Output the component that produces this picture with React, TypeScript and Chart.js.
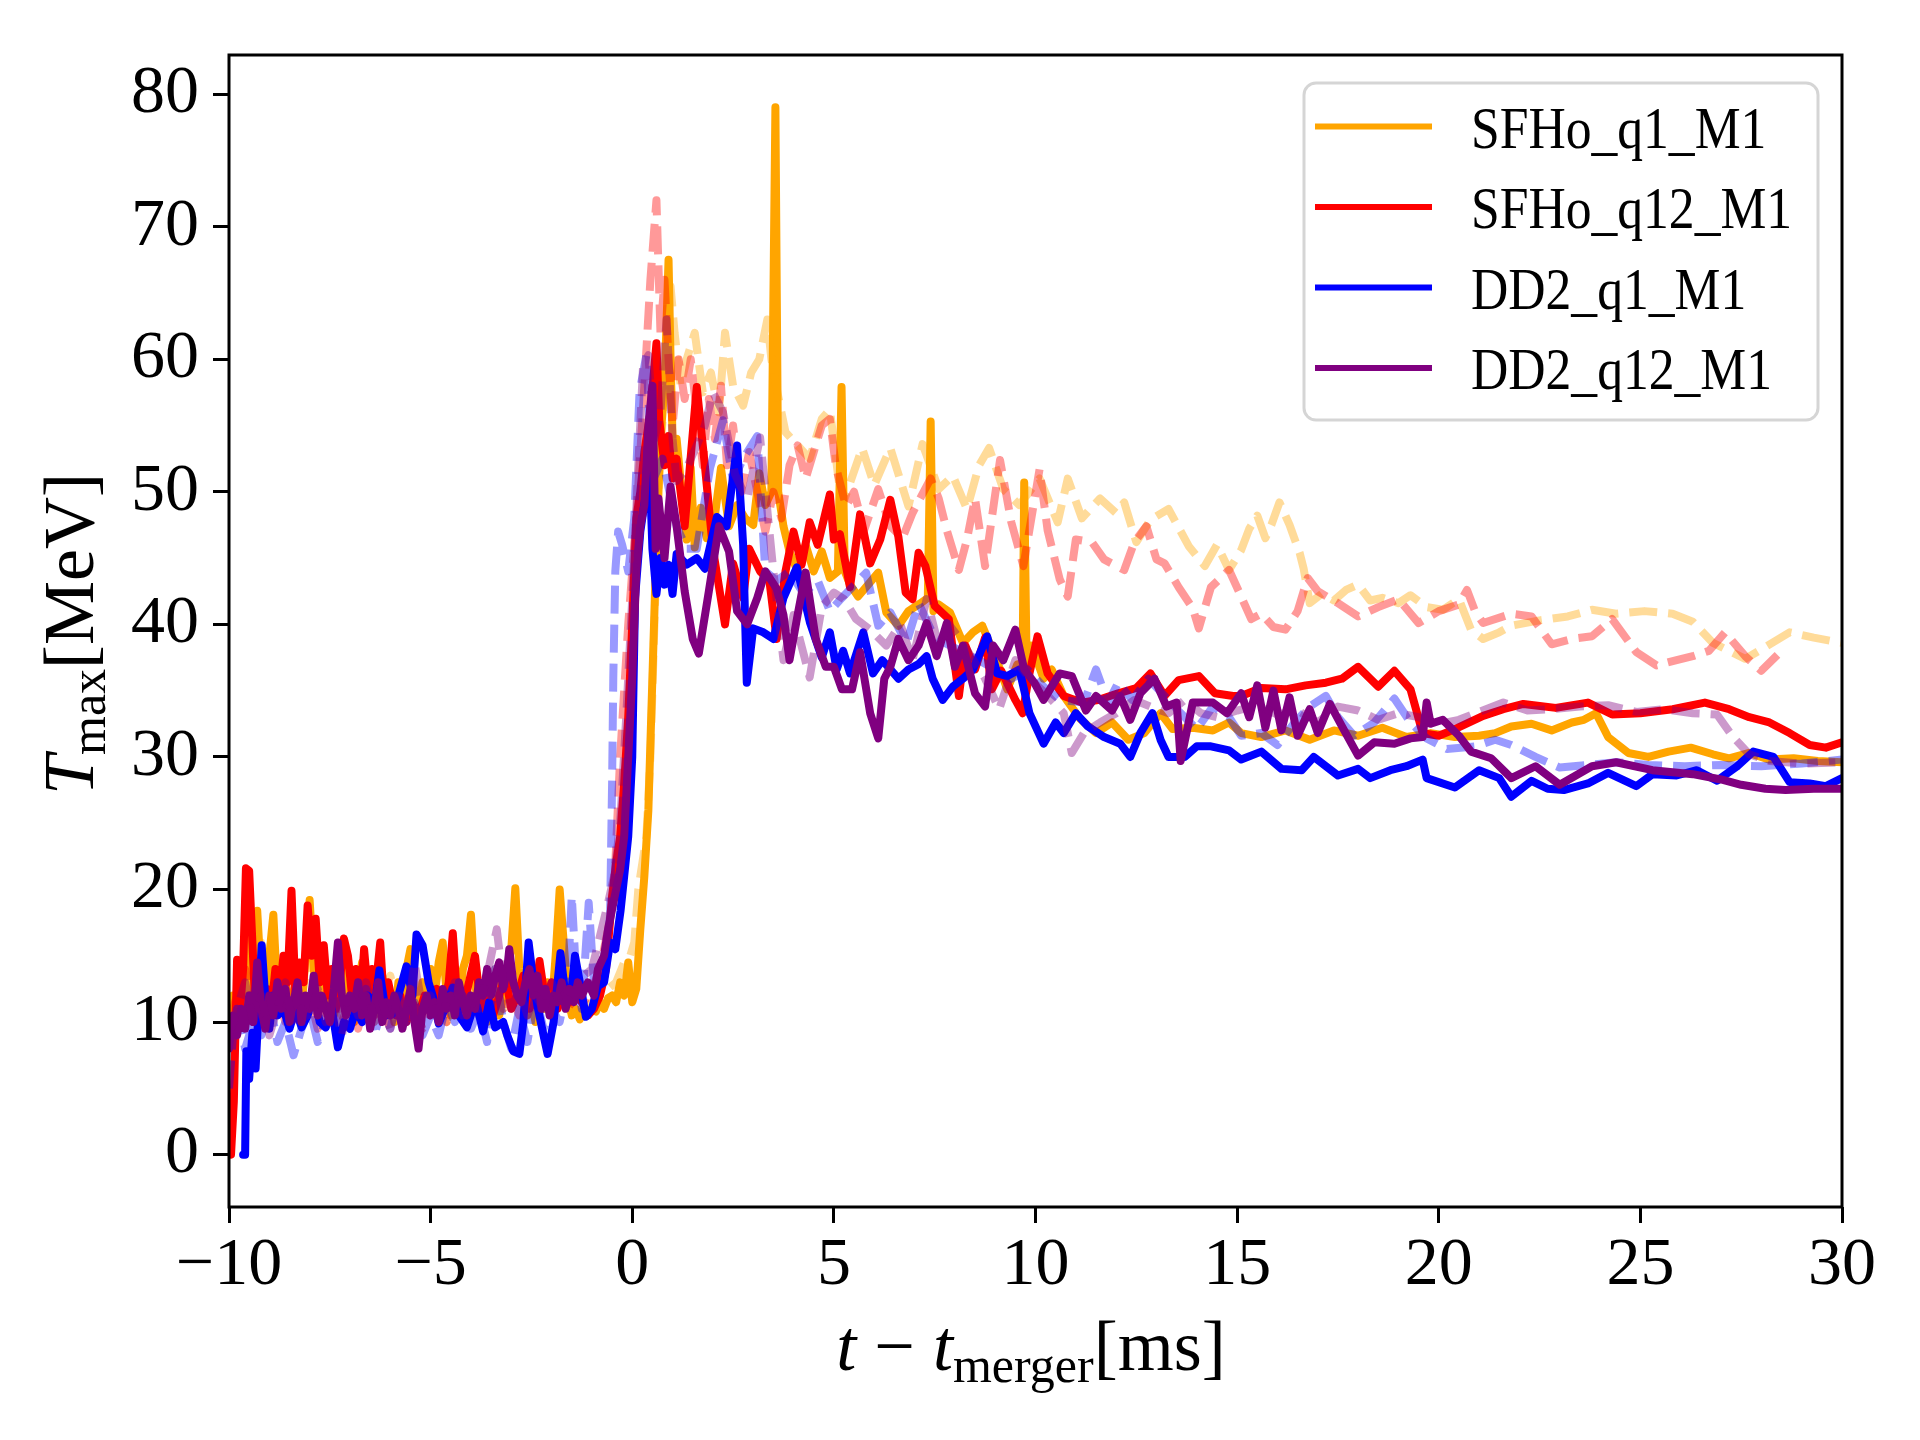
import { useEffect, useRef } from 'react';
import { Chart, registerables } from 'chart.js';

Chart.register(...registerables);

const FONT = "'Liberation Serif', 'DejaVu Serif', serif";

const xTicks = [-10, -5, 0, 5, 10, 15, 20, 25, 30];
const yTicks = [0, 10, 20, 30, 40, 50, 60, 70, 80];

const seriesNames = ['SFHo_q1_M1', 'SFHo_q12_M1', 'DD2_q1_M1', 'DD2_q12_M1'];
const seriesColors = ['#FFA500', '#FF0000', '#0000FF', '#800080'];
const dashedColors = ['rgba(255,165,0,0.4)', 'rgba(255,0,0,0.4)', 'rgba(0,0,255,0.4)', 'rgba(128,0,128,0.4)'];

// [t - t_merger (ms), T_max (MeV)]
const sfhoQ1 = [
  [-10, 10.5], [-9.9, 12], [-9.8, 10], [-9.7, 13], [-9.6, 11], [-9.5, 17.9], [-9.4, 12], [-9.3, 18.4], [-9.2, 13], [-9.1, 11],
  [-9.0, 15], [-8.9, 18.1], [-8.8, 12], [-8.7, 11], [-8.6, 13], [-8.5, 10.5], [-8.4, 12], [-8.3, 14], [-8.2, 11], [-8.1, 15],
  [-8.0, 19.2], [-7.9, 14], [-7.8, 12], [-7.7, 15], [-7.6, 11], [-7.5, 13], [-7.4, 10.5], [-7.3, 12], [-7.2, 14], [-7.1, 11],
  [-7.0, 13], [-6.9, 10], [-6.8, 12.5], [-6.7, 14.5], [-6.6, 11], [-6.5, 13], [-6.4, 10.5], [-6.3, 12], [-6.2, 13.5], [-6.1, 11],
  [-6.0, 12], [-5.9, 10], [-5.8, 13], [-5.7, 11], [-5.6, 14], [-5.5, 15.5], [-5.4, 12], [-5.3, 10.5], [-5.2, 13], [-5.1, 11.5],
  [-5.0, 14], [-4.9, 12], [-4.8, 14.5], [-4.7, 16], [-4.6, 12], [-4.5, 10.5], [-4.4, 13], [-4.3, 11], [-4.2, 14], [-4.1, 15],
  [-4.0, 18.1], [-3.9, 13], [-3.8, 11], [-3.7, 12.5], [-3.6, 10], [-3.5, 11.5], [-3.4, 13], [-3.3, 10.5], [-3.2, 12], [-3.1, 14],
  [-3.0, 15.5], [-2.9, 20.1], [-2.8, 14], [-2.7, 12], [-2.6, 10.5], [-2.5, 11.5], [-2.4, 10], [-2.3, 12], [-2.2, 11], [-2.1, 13],
  [-2.0, 11], [-1.9, 15], [-1.8, 20], [-1.7, 16], [-1.6, 12], [-1.5, 10.5], [-1.4, 11], [-1.3, 10.2], [-1.2, 11], [-1.1, 10.5],
  [-1.0, 11], [-0.9, 10.8], [-0.8, 11.5], [-0.7, 11], [-0.6, 11.8], [-0.5, 12], [-0.4, 11.5], [-0.3, 13], [-0.2, 12], [-0.1, 14.5],
  [0.0, 11.5], [0.1, 12.5], [0.2, 17], [0.3, 21], [0.4, 26], [0.5, 36], [0.6, 46], [0.7, 54], [0.8, 58], [0.9, 67.5],
  [0.95, 60], [1.0, 54], [1.1, 54], [1.2, 50.8], [1.3, 48], [1.35, 46.4], [1.45, 51.8], [1.55, 45.8], [1.7, 48.8], [1.85, 46.5],
  [2.0, 47], [2.2, 51.8], [2.4, 47.4], [2.6, 49], [2.8, 48], [3.0, 47.5], [3.15, 51.4], [3.3, 49], [3.45, 50], [3.55, 79],
  [3.62, 50], [3.75, 47.4], [3.9, 45.5], [4.1, 44], [4.3, 46], [4.5, 44], [4.7, 45.5], [4.9, 43.5], [5.1, 44], [5.19, 57.9],
  [5.27, 44], [5.4, 43], [5.6, 42.1], [5.85, 43], [6.1, 43.9], [6.3, 40.9], [6.6, 39.9], [6.85, 41], [7.15, 41.6], [7.33, 42],
  [7.4, 55.3], [7.47, 41], [7.6, 41.5], [7.88, 40.9], [8.2, 38.6], [8.45, 39.4], [8.68, 39.9], [9.0, 37.6], [9.3, 35.1], [9.55, 37],
  [9.68, 37], [9.72, 50.7], [9.78, 37], [9.9, 38.4], [10.2, 35.9], [10.4, 36.6], [10.7, 34.6], [11.1, 32.9], [11.5, 31.8], [11.9, 32.6],
  [12.3, 31.3], [12.7, 31.8], [13.1, 33.3], [13.4, 32.1], [13.9, 32.2], [14.4, 32], [14.8, 32.6], [15.1, 31.8], [15.6, 31.5], [16.2, 32],
  [16.8, 31.3], [17.4, 32], [18.0, 31.6], [18.6, 32.2], [19.2, 31.5], [19.8, 31.8], [20.4, 31.5], [21.0, 31.6], [21.4, 31.8], [21.8, 32.3],
  [22.3, 32.5], [22.8, 32], [23.3, 32.6], [23.6, 32.8], [23.9, 33.3], [24.2, 31.5], [24.7, 30.3], [25.2, 30], [25.7, 30.4], [26.25, 30.7],
  [26.8, 30.2], [27.2, 29.9], [27.7, 30.3], [28.2, 29.8], [28.8, 29.9], [29.4, 29.7], [30, 29.6],
];

const sfhoQ12 = [
  [-9.95, 0], [-9.88, 4], [-9.8, 14.7], [-9.72, 11], [-9.65, 14], [-9.58, 21.6], [-9.5, 21.4], [-9.42, 16], [-9.35, 11.3], [-9.25, 13],
  [-9.15, 10], [-9.05, 12.5], [-8.95, 11], [-8.85, 14], [-8.75, 12], [-8.65, 15], [-8.55, 13], [-8.45, 19.9], [-8.35, 12], [-8.25, 14.5],
  [-8.15, 13], [-8.05, 18.8], [-7.95, 15], [-7.85, 17.8], [-7.75, 13], [-7.65, 15.8], [-7.55, 12], [-7.45, 14], [-7.35, 11], [-7.25, 13],
  [-7.15, 16.3], [-7.05, 15], [-6.95, 12], [-6.85, 14], [-6.75, 11], [-6.65, 15.5], [-6.55, 12], [-6.45, 14], [-6.35, 13], [-6.25, 16],
  [-6.15, 11], [-6.05, 13], [-5.95, 11.5], [-5.85, 10.5], [-5.75, 12], [-5.6, 10], [-5.45, 11.5], [-5.3, 10.5], [-5.15, 12], [-5.0, 11],
  [-4.85, 12.5], [-4.7, 11], [-4.55, 13], [-4.45, 16.7], [-4.35, 12], [-4.2, 11], [-4.05, 13], [-3.9, 15], [-3.75, 11], [-3.6, 12.5],
  [-3.45, 10.5], [-3.3, 12], [-3.15, 13.5], [-3.0, 11], [-2.85, 12], [-2.7, 13.5], [-2.55, 11], [-2.4, 12], [-2.3, 14.6], [-2.15, 11.5],
  [-2.0, 13], [-1.85, 11], [-1.7, 12.5], [-1.55, 11.5], [-1.4, 12], [-1.25, 11.5], [-1.1, 10.5], [-0.95, 11], [-0.8, 12], [-0.65, 14],
  [-0.5, 19.5], [-0.4, 22], [-0.3, 24], [-0.2, 28], [-0.1, 33], [0.0, 40], [0.1, 48], [0.2, 50], [0.3, 53], [0.45, 56],
  [0.6, 61.2], [0.67, 55.4], [0.8, 52], [0.9, 54.2], [1.0, 51], [1.1, 52.5], [1.3, 47.4], [1.6, 57.9], [1.8, 52], [2.0, 45.7],
  [2.3, 40], [2.5, 44.6], [2.75, 42], [2.9, 45.7], [3.17, 44], [3.4, 43.3], [3.58, 38.9], [3.8, 44], [4.0, 47], [4.2, 44.5],
  [4.4, 47.7], [4.6, 46], [4.9, 49.8], [5.0, 46.4], [5.15, 46.8], [5.4, 42.8], [5.65, 48.3], [5.9, 44.6], [6.15, 46.4], [6.4, 49.4],
  [6.6, 46.6], [6.78, 42.4], [6.95, 41.9], [7.1, 45.4], [7.27, 44.4], [7.5, 41.4], [7.85, 40.4], [8.1, 34.6], [8.26, 38.4], [8.5, 36.6],
  [8.75, 39], [8.92, 35.1], [9.15, 36.5], [9.5, 34.3], [9.68, 33.3], [9.85, 36.3], [10.05, 39.1], [10.3, 36.3], [10.7, 34.6], [11.15, 34.1],
  [11.55, 34.3], [12.05, 34.8], [12.5, 35.2], [12.85, 36.3], [13.2, 34.6], [13.55, 35.8], [14.05, 36.1], [14.45, 34.8], [14.9, 34.6], [15.1, 34.6],
  [15.6, 35.2], [16.2, 35.1], [16.7, 35.4], [17.2, 35.6], [17.6, 35.9], [18.0, 36.8], [18.5, 35.3], [18.9, 36.5], [19.3, 35.1], [19.6, 31.8],
  [20.0, 31.6], [20.4, 32.1], [21.1, 33.1], [21.6, 33.6], [22.1, 34], [22.9, 33.7], [23.7, 34.1], [24.3, 33.2], [25.0, 33.3], [25.8, 33.6],
  [26.6, 34.1], [27.2, 33.6], [27.7, 33], [28.2, 32.6], [28.7, 31.8], [29.2, 30.9], [29.6, 30.7], [30, 31.1],
];

const dd2Q1 = [
  [-9.65, 0], [-9.6, 0], [-9.57, 7.8], [-9.5, 5.7], [-9.42, 9.2], [-9.34, 6.5], [-9.25, 12], [-9.19, 15.8], [-9.1, 11.8], [-9.0, 9.5],
  [-8.9, 12], [-8.8, 10.5], [-8.65, 11], [-8.5, 9.5], [-8.35, 11], [-8.2, 9.6], [-8.05, 10.5], [-7.9, 12.3], [-7.75, 10], [-7.6, 9.6],
  [-7.45, 11], [-7.3, 8.1], [-7.15, 10], [-7.0, 9.5], [-6.85, 11], [-6.7, 10], [-6.55, 12], [-6.4, 11], [-6.27, 13.9], [-6.1, 10.5],
  [-5.95, 10.6], [-5.8, 12], [-5.6, 14.2], [-5.45, 12], [-5.35, 16.6], [-5.2, 15.8], [-5.05, 13], [-4.95, 12], [-4.8, 9.9], [-4.65, 11],
  [-4.45, 12.6], [-4.3, 10.5], [-4.1, 9.6], [-3.95, 11], [-3.85, 11.2], [-3.7, 9.3], [-3.55, 11.5], [-3.4, 9.6], [-3.2, 10], [-3.1, 9],
  [-2.95, 7.8], [-2.8, 7.6], [-2.7, 10], [-2.57, 16], [-2.45, 13], [-2.35, 11.2], [-2.2, 9], [-2.1, 7.6], [-1.95, 10], [-1.78, 15.2],
  [-1.65, 11.8], [-1.5, 12.5], [-1.42, 15], [-1.3, 13], [-1.15, 10.4], [-1.0, 11], [-0.85, 12.7], [-0.7, 13], [-0.55, 16], [-0.42, 15.5],
  [-0.29, 18.4], [-0.2, 21], [-0.1, 24], [0.0, 30], [0.07, 42], [0.2, 47], [0.43, 51.8], [0.5, 45.7], [0.6, 42.3], [0.7, 45],
  [0.8, 43], [0.9, 44.5], [1.0, 42.3], [1.1, 45.3], [1.35, 44.5], [1.6, 45], [1.8, 44.2], [2.1, 48.1], [2.34, 47.4], [2.6, 53.5],
  [2.75, 46], [2.84, 35.6], [3.0, 39.7], [3.25, 39.4], [3.5, 38.9], [3.75, 42], [4.08, 44.3], [4.41, 40.1], [4.7, 37.5], [4.9, 39.4],
  [5.07, 36.6], [5.23, 38], [5.4, 36.3], [5.73, 39.4], [5.97, 36.3], [6.2, 37.3], [6.6, 35.9], [6.85, 36.6], [7.1, 37], [7.3, 37.6],
  [7.45, 35.9], [7.7, 34.3], [7.95, 35.3], [8.2, 35.9], [8.45, 36.6], [8.8, 39.1], [9.05, 36.3], [9.3, 36.1], [9.6, 36.6], [9.85, 33.3],
  [10.2, 31], [10.5, 32.6], [10.7, 31.8], [11.0, 33.3], [11.3, 32.3], [11.7, 31.5], [12.1, 31], [12.35, 30], [12.6, 31.8], [12.9, 33.3],
  [13.1, 31.3], [13.3, 30], [13.7, 30], [14.0, 30.8], [14.35, 30.8], [14.8, 30.5], [15.1, 29.8], [15.6, 30.4], [16.1, 29.1], [16.6, 29],
  [16.9, 30], [17.5, 28.6], [18.0, 29.1], [18.3, 28.4], [18.8, 29], [19.2, 29.3], [19.6, 29.8], [19.7, 28.4], [20.4, 27.7], [21.0, 29],
  [21.5, 28.4], [21.8, 27], [22.3, 28.2], [22.7, 27.6], [23.1, 27.5], [23.7, 28], [24.2, 28.8], [24.9, 27.8], [25.3, 28.7], [25.9, 28.6],
  [26.4, 29], [26.9, 28.2], [27.4, 29.3], [27.8, 30.4], [28.3, 30], [28.7, 28.1], [29.2, 28], [29.6, 27.8], [30, 28.4],
];

const dd2Q12 = [
  [-10, 8], [-9.9, 10.5], [-9.8, 9], [-9.7, 11], [-9.6, 9.5], [-9.5, 12], [-9.4, 10], [-9.3, 14.5], [-9.2, 11], [-9.1, 9.5],
  [-9.0, 12], [-8.9, 10.5], [-8.8, 13], [-8.7, 11], [-8.6, 12.5], [-8.5, 10], [-8.4, 11.5], [-8.3, 13], [-8.2, 10], [-8.1, 12],
  [-8.0, 11], [-7.9, 13.5], [-7.8, 10.5], [-7.7, 12], [-7.6, 11], [-7.5, 10], [-7.4, 12.5], [-7.3, 16], [-7.2, 12], [-7.1, 10.5],
  [-7.0, 12], [-6.9, 11], [-6.8, 13], [-6.7, 10.5], [-6.6, 12], [-6.5, 9.5], [-6.4, 11], [-6.3, 13], [-6.2, 10], [-6.1, 11.5],
  [-6.0, 10.5], [-5.9, 12], [-5.8, 11], [-5.7, 9.5], [-5.6, 11], [-5.5, 12.5], [-5.4, 10], [-5.3, 8], [-5.2, 11], [-5.1, 12],
  [-5.0, 10.5], [-4.9, 11.5], [-4.8, 10], [-4.7, 12.5], [-4.6, 11], [-4.5, 12], [-4.4, 10.5], [-4.3, 13], [-4.2, 11.5], [-4.1, 10.5],
  [-4.0, 12], [-3.9, 11], [-3.8, 13], [-3.7, 12], [-3.6, 14], [-3.5, 12], [-3.4, 13.5], [-3.3, 14.5], [-3.2, 12.5], [-3.1, 14],
  [-3.05, 15.5], [-2.95, 13], [-2.85, 12], [-2.75, 11.5], [-2.65, 13], [-2.55, 14], [-2.45, 12], [-2.35, 13.5], [-2.25, 11], [-2.15, 12.5],
  [-2.05, 10.5], [-1.95, 12], [-1.85, 11.5], [-1.75, 13], [-1.65, 11], [-1.55, 12.5], [-1.45, 11.5], [-1.35, 13], [-1.25, 12], [-1.1, 13],
  [-0.95, 12], [-0.85, 14], [-0.7, 15], [-0.6, 17], [-0.5, 18.5], [-0.4, 20], [-0.3, 21.5], [-0.2, 24], [-0.1, 30], [0.0, 36],
  [0.1, 44], [0.2, 47.4], [0.3, 49], [0.4, 55], [0.5, 58], [0.58, 45.7], [0.65, 49.5], [0.8, 45], [0.95, 50.4], [1.1, 47.4],
  [1.3, 42.5], [1.5, 38.9], [1.65, 37.8], [1.9, 42.5], [2.15, 47.4], [2.4, 45.5], [2.6, 41], [2.85, 40], [3.1, 42], [3.3, 44],
  [3.58, 42.7], [3.75, 40.7], [3.9, 37.3], [4.1, 40.7], [4.3, 43.9], [4.55, 38.9], [4.8, 36.8], [5.0, 36.8], [5.2, 35.1], [5.45, 35.1],
  [5.65, 37.9], [5.9, 33.3], [6.1, 31.4], [6.25, 35.9], [6.4, 36.8], [6.6, 38.9], [6.85, 37.3], [7.1, 38.4], [7.3, 40.1], [7.55, 37.6],
  [7.8, 40.1], [8.0, 36.8], [8.2, 38.4], [8.5, 34.8], [8.75, 33.8], [8.95, 38.4], [9.2, 37.3], [9.5, 39.6], [9.72, 36.6], [9.97, 35.6],
  [10.2, 34.3], [10.6, 36.3], [10.9, 36.1], [11.25, 33.5], [11.5, 34.6], [11.9, 33.5], [12.1, 34.6], [12.35, 32.8], [12.6, 34.8], [12.95, 35.9],
  [13.25, 33.8], [13.5, 34.1], [13.6, 29.7], [13.9, 34.1], [14.4, 34.1], [14.75, 33.3], [15.1, 34.8], [15.3, 33], [15.5, 35.4], [15.7, 32.2],
  [15.9, 35], [16.1, 32], [16.3, 34.5], [16.5, 31.6], [16.8, 33.6], [17.0, 31.8], [17.3, 34], [17.6, 32.3], [18.0, 30.1], [18.4, 31.1],
  [18.9, 31], [19.3, 31.4], [19.6, 31.5], [19.7, 34.1], [19.8, 32.5], [20.1, 32.8], [20.5, 31.6], [20.8, 30.4], [21.3, 29.9], [21.8, 28.4],
  [22.4, 29.3], [23.0, 27.9], [23.4, 28.6], [23.8, 29.3], [24.4, 29.6], [25.3, 29], [26.3, 28.7], [27.0, 28.3], [27.5, 27.9], [28.1, 27.6],
  [28.6, 27.5], [29.3, 27.6], [30, 27.6],
];

const sfhoQ1Dashed = [
  [-10, 9.5], [-9.8, 11], [-9.6, 13], [-9.4, 12], [-9.2, 16], [-9.0, 12], [-8.8, 14], [-8.6, 11], [-8.4, 13], [-8.2, 12],
  [-8.0, 15], [-7.8, 11], [-7.6, 13], [-7.4, 12], [-7.2, 10.5], [-7.0, 12.5], [-6.8, 11], [-6.6, 13], [-6.4, 10], [-6.2, 12],
  [-6.0, 13.5], [-5.8, 11], [-5.6, 12.5], [-5.4, 10.5], [-5.2, 13], [-5.0, 11.5], [-4.8, 12], [-4.6, 10], [-4.4, 13], [-4.2, 11],
  [-4.0, 12.5], [-3.8, 10.5], [-3.6, 12], [-3.4, 14], [-3.2, 11], [-3.0, 13], [-2.8, 11.5], [-2.6, 12], [-2.4, 10.5], [-2.2, 12],
  [-2.0, 11], [-1.8, 12.5], [-1.6, 11], [-1.4, 10.5], [-1.2, 11], [-1.0, 11.5], [-0.8, 12], [-0.6, 12.5], [-0.4, 13], [-0.2, 14.5],
  [-0.05, 15], [0.05, 16], [0.15, 20], [0.25, 22], [0.35, 24], [0.45, 30], [0.55, 40], [0.65, 50], [0.8, 58], [0.95, 65.5],
  [1.05, 62], [1.2, 58], [1.35, 60], [1.55, 62], [1.75, 57.5], [1.95, 59], [2.15, 56], [2.3, 62], [2.5, 58], [2.75, 56.5],
  [2.95, 59], [3.15, 60], [3.35, 63], [3.45, 60], [3.6, 57.5], [3.8, 54.5], [4.1, 53.5], [4.4, 52.5], [4.7, 55.5], [4.9, 56.2],
  [5.2, 48.9], [5.7, 53.3], [6.0, 50.5], [6.4, 53.3], [6.85, 48.9], [7.2, 53.6], [7.6, 50.2], [7.95, 51.2], [8.3, 48.7], [8.6, 52],
  [8.85, 53.3], [9.2, 50.2], [9.6, 49], [10.1, 51], [10.55, 47.7], [10.8, 51], [11.15, 48], [11.6, 49.5], [12.0, 48.4], [12.2, 49.2],
  [12.5, 46.2], [12.85, 47.9], [13.3, 48.7], [13.8, 45.9], [14.2, 44.4], [14.5, 46], [14.8, 44.1], [15.1, 45.6], [15.3, 47.2], [15.5, 48.2],
  [15.7, 46.5], [15.85, 47.5], [16.05, 49.2], [16.3, 47.5], [16.55, 45.4], [16.65, 44.2], [16.8, 41.6], [17.1, 42.3], [17.4, 41.8], [17.7, 42.6],
  [18.0, 43], [18.3, 41.8], [18.6, 42], [19.0, 41.6], [19.3, 42.2], [19.7, 41.3], [20.1, 41.1], [20.5, 41.9], [20.8, 39.6], [21.1, 38.9],
  [21.5, 39.4], [21.8, 39.9], [22.5, 40.3], [23.2, 40.6], [23.8, 41.1], [24.4, 40.8], [25.1, 41], [25.8, 40.8], [26.3, 40.2], [26.8, 38.6],
  [27.2, 38], [27.6, 37.4], [28.1, 38.3], [28.7, 39.4], [29.3, 39], [30, 38.6],
];

const sfhoQ12Dashed = [
  [-10, 10], [-9.8, 12], [-9.6, 14], [-9.4, 11], [-9.2, 13], [-9.0, 10.5], [-8.8, 12], [-8.6, 10], [-8.4, 13.5], [-8.2, 11],
  [-8.0, 12], [-7.8, 9.5], [-7.6, 11], [-7.4, 13], [-7.2, 10], [-7.0, 11.5], [-6.8, 9.5], [-6.6, 12], [-6.4, 10.5], [-6.2, 11],
  [-6.0, 9.5], [-5.8, 12], [-5.6, 10.5], [-5.4, 11], [-5.2, 9.5], [-5.0, 11], [-4.8, 12.5], [-4.6, 10], [-4.4, 11.5], [-4.2, 10],
  [-4.0, 12], [-3.8, 10.5], [-3.6, 11.5], [-3.4, 13], [-3.2, 11], [-3.0, 12], [-2.8, 10.5], [-2.6, 11.5], [-2.4, 12], [-2.2, 10.5],
  [-2.0, 11], [-1.8, 12], [-1.6, 11], [-1.4, 12], [-1.2, 11.5], [-1.0, 12.5], [-0.8, 14], [-0.6, 17], [-0.45, 20], [-0.3, 30],
  [-0.1, 40], [0.1, 48], [0.3, 58], [0.45, 66], [0.6, 72], [0.7, 62], [0.8, 66], [0.9, 60], [1.0, 55], [1.15, 60],
  [1.3, 57], [1.45, 60], [1.6, 56], [1.75, 52], [1.9, 57], [2.05, 54], [2.2, 58], [2.35, 52], [2.5, 55], [2.7, 50],
  [2.9, 53], [3.1, 50], [3.3, 47], [3.5, 50], [3.7, 48], [3.9, 52], [4.1, 53.5], [4.3, 51], [4.5, 53], [4.7, 55],
  [4.9, 55.5], [5.05, 51.9], [5.3, 48.9], [5.5, 50], [5.75, 47.1], [6.1, 50.2], [6.4, 47.4], [6.7, 46.5], [6.95, 48.4], [7.4, 51],
  [7.6, 49.5], [7.8, 47.1], [8.1, 44.1], [8.3, 46.4], [8.5, 49.5], [8.75, 44.4], [9.12, 52.4], [9.4, 47.7], [9.7, 44.4], [10.1, 51.7],
  [10.3, 47.1], [10.6, 43.4], [10.8, 42.1], [11.0, 46.4], [11.4, 46.2], [11.7, 44.9], [12.2, 44.1], [12.45, 46.2], [12.75, 47.4], [13.0, 44.9],
  [13.2, 44.6], [13.55, 42.8], [13.9, 41.2], [14.05, 39.7], [14.35, 42.8], [14.8, 44.1], [15.1, 42.1], [15.35, 40.4], [15.6, 40.8], [15.9, 39.8],
  [16.2, 39.6], [16.5, 41], [16.75, 43.5], [17.0, 42.5], [17.5, 41.6], [18.0, 40.6], [18.5, 41.3], [19.0, 41.9], [19.5, 40.1], [20.0, 41],
  [20.5, 41.5], [20.7, 42.6], [20.9, 41], [21.1, 40.1], [21.8, 40.8], [22.3, 40.6], [22.8, 38.5], [23.3, 38.9], [23.8, 39.1], [24.3, 40.4],
  [24.9, 37.9], [25.4, 36.9], [25.9, 37.3], [26.3, 37.6], [26.7, 38], [27.1, 39.4], [27.6, 37.6], [28.0, 36.5], [28.4, 37.7],
];

const dd2Q1Dashed = [
  [-10, 5], [-9.9, 9], [-9.8, 11], [-9.6, 8], [-9.4, 10], [-9.2, 9], [-9.0, 11.5], [-8.8, 8.5], [-8.6, 10], [-8.4, 7.5],
  [-8.2, 9.5], [-8.0, 11], [-7.8, 8.5], [-7.6, 10], [-7.4, 12], [-7.2, 9.5], [-7.0, 11], [-6.8, 10], [-6.6, 12.5], [-6.4, 9],
  [-6.2, 11], [-6.0, 9.5], [-5.8, 12], [-5.6, 10], [-5.4, 11.5], [-5.2, 9], [-5.0, 10.5], [-4.8, 9], [-4.6, 11.5], [-4.4, 10],
  [-4.2, 12], [-4.0, 9.5], [-3.8, 11], [-3.6, 8.5], [-3.4, 14], [-3.2, 10], [-3.0, 8], [-2.8, 11], [-2.6, 8.5], [-2.4, 12],
  [-2.2, 9.5], [-2.0, 11], [-1.8, 10], [-1.6, 13], [-1.5, 19.5], [-1.4, 14], [-1.25, 11], [-1.08, 19], [-0.95, 13], [-0.8, 14],
  [-0.65, 15.5], [-0.55, 18], [-0.5, 28], [-0.47, 36], [-0.42, 44], [-0.35, 47], [-0.25, 46], [-0.1, 44], [0.05, 48], [0.18, 57.5],
  [0.35, 60.3], [0.5, 50.8], [0.75, 52.5], [1.1, 47.4], [1.35, 45.7], [1.6, 45.7], [1.93, 51.8], [2.25, 55.4], [2.5, 50.8], [2.75, 52.5],
  [3.1, 54.2], [3.3, 44], [3.58, 43.3], [3.9, 44], [4.25, 42.3], [4.6, 43.3], [4.9, 41], [5.2, 42], [5.8, 43.9], [6.1, 39.9],
  [6.4, 40.9], [6.8, 38.6], [7.1, 41.6], [7.5, 39], [8.2, 37.9], [8.6, 37.3], [9.0, 36.6], [9.4, 35.9], [9.8, 36.6], [10.2, 35.3],
  [10.6, 34.3], [11.2, 34.1], [11.5, 36.6], [11.8, 34.1], [12.05, 35.6], [12.4, 34.3], [12.8, 35.9], [13.2, 34.6], [13.6, 33.3], [14.0, 32.1],
  [14.4, 33.8], [14.8, 33], [15.1, 31.6], [15.6, 31.8], [16.0, 30.9], [16.4, 32.5], [16.8, 33.8], [17.2, 34.6], [17.5, 33], [17.9, 31.6],
  [18.4, 32.6], [18.9, 34.4], [19.3, 32.6], [19.7, 31.4], [20.2, 30.6], [20.9, 30.8], [21.4, 31.3], [21.8, 30.9], [22.4, 30], [23.0, 29.2],
  [23.7, 29.4], [24.4, 29.6], [25.2, 29.4], [26.1, 29.3], [27.0, 29.4], [28.0, 29.3], [29.0, 29.5], [30, 29.8],
];

const dd2Q12Dashed = [
  [-10, 9], [-9.8, 11], [-9.6, 13], [-9.4, 10], [-9.2, 12], [-9.0, 9], [-8.8, 11], [-8.6, 13], [-8.4, 9.5], [-8.2, 11],
  [-8.0, 10], [-7.8, 12.5], [-7.6, 10], [-7.4, 11.5], [-7.2, 9], [-7.0, 12], [-6.8, 10.5], [-6.6, 13], [-6.4, 10], [-6.2, 11.5],
  [-6.0, 9.5], [-5.8, 12], [-5.6, 10], [-5.4, 14.5], [-5.2, 11], [-5.0, 12], [-4.8, 10], [-4.6, 11.5], [-4.4, 13], [-4.2, 10.5],
  [-4.0, 12], [-3.8, 11], [-3.6, 13.5], [-3.36, 17], [-3.2, 13], [-3.0, 11], [-2.8, 12.5], [-2.6, 10.5], [-2.4, 12], [-2.2, 11],
  [-2.0, 13], [-1.8, 11.5], [-1.6, 12.5], [-1.4, 12], [-1.2, 13.5], [-1.0, 14], [-0.8, 16.5], [-0.6, 19], [-0.45, 21], [-0.3, 25],
  [-0.15, 33], [0.0, 42], [0.15, 52], [0.27, 59.6], [0.4, 60.3], [0.55, 54], [0.7, 56], [0.85, 63], [1.0, 54], [1.1, 50.8],
  [1.35, 51.8], [1.6, 53.5], [1.8, 55], [2.0, 57.5], [2.25, 56], [2.55, 51.3], [2.85, 49.4], [3.17, 54.1], [3.5, 44], [3.75, 37.3],
  [4.0, 40.7], [4.4, 36], [4.7, 41.3], [5.0, 42.4], [5.25, 41.9], [5.55, 40.4], [5.9, 39.6], [6.3, 38.4], [6.65, 40], [6.95, 37.3],
  [7.3, 41.9], [7.6, 38.4], [7.85, 40], [8.1, 39], [8.4, 37.6], [8.75, 35.9], [9.1, 33.6], [9.5, 37.3], [9.85, 35.9], [10.25, 34.8],
  [10.7, 33.3], [10.9, 30.3], [11.2, 31.8], [11.6, 32.6], [12.0, 33.3], [12.45, 34.3], [12.85, 33.8], [13.3, 33.3], [13.7, 34.3], [14.1, 33.3],
  [14.5, 33], [15.0, 33.5], [15.5, 33.9], [16.0, 33.2], [16.5, 33.5], [17.0, 32.6], [17.5, 33.8], [18.0, 33.5], [18.5, 32.8], [19.0, 33.3],
  [19.5, 33], [20.0, 32.5], [20.5, 32.8], [21.0, 33.4], [21.6, 34.1], [22.2, 33.5], [22.8, 33.6], [23.5, 33.8], [24.2, 33.9], [24.9, 33.4],
  [25.6, 33.6], [26.3, 33.3], [26.9, 33.2], [27.3, 31.5], [27.7, 30.2], [28.2, 29.7], [29.0, 29.5], [30, 29.6],
];

const solidSeries = [sfhoQ1, sfhoQ12, dd2Q1, dd2Q12];
const dashedSeries = [sfhoQ1Dashed, sfhoQ12Dashed, dd2Q1Dashed, dd2Q12Dashed];

type Part = { t: string; it?: boolean; sub?: boolean };

function partFont(p: Part) {
  const size = p.sub ? 50 : 72;
  return `${p.it ? 'italic ' : ''}${size}px ${FONT}`;
}

function drawRich(ctx: CanvasRenderingContext2D, parts: Part[], cx: number, baseline: number) {
  let total = 0;
  const widths = parts.map((p) => {
    ctx.font = partFont(p);
    const w = ctx.measureText(p.t).width;
    total += w;
    return w;
  });
  let x = cx - total / 2;
  ctx.textAlign = 'left';
  ctx.textBaseline = 'alphabetic';
  ctx.fillStyle = '#000';
  parts.forEach((p, i) => {
    ctx.font = partFont(p);
    ctx.fillText(p.t, x, baseline + (p.sub ? 12 : 0));
    x += widths[i];
  });
}

const decorPlugin = {
  id: 'decor',
  afterDatasetsDraw(chart: any) {
    const ctx: CanvasRenderingContext2D = chart.ctx;
    ctx.save();
    const bx = 1304, by = 83, bw = 514, bh = 337, r = 12;
    ctx.beginPath();
    ctx.moveTo(bx + r, by);
    ctx.arcTo(bx + bw, by, bx + bw, by + bh, r);
    ctx.arcTo(bx + bw, by + bh, bx, by + bh, r);
    ctx.arcTo(bx, by + bh, bx, by, r);
    ctx.arcTo(bx, by, bx + bw, by, r);
    ctx.closePath();
    ctx.fillStyle = 'rgba(255,255,255,0.8)';
    ctx.fill();
    ctx.lineWidth = 3;
    ctx.strokeStyle = '#d5d5d5';
    ctx.stroke();
    const rows = [126.5, 207, 287.5, 368];
    seriesNames.forEach((name, i) => {
      ctx.beginPath();
      ctx.moveTo(1315, rows[i]);
      ctx.lineTo(1432, rows[i]);
      ctx.lineWidth = 6;
      ctx.strokeStyle = seriesColors[i];
      ctx.lineCap = 'butt';
      ctx.stroke();
      ctx.save();
      ctx.translate(1471, rows[i] + 21);
      ctx.scale(0.86, 1);
      ctx.font = `60px ${FONT}`;
      ctx.fillStyle = '#000';
      ctx.textAlign = 'left';
      ctx.textBaseline = 'alphabetic';
      ctx.fillText(name, 0, 0);
      ctx.restore();
    });
    ctx.restore();
  },
  afterDraw(chart: any) {
    const ctx: CanvasRenderingContext2D = chart.ctx;
    const a = chart.chartArea;
    ctx.save();
    ctx.lineWidth = 3;
    ctx.strokeStyle = '#000';
    ctx.strokeRect(a.left, a.top, a.right - a.left, a.bottom - a.top);
    drawRich(ctx, [{ t: 't', it: true }, { t: ' − ' }, { t: 't', it: true }, { t: 'merger', sub: true }, { t: '[ms]' }], 1031, 1370);
    ctx.translate(93, 634);
    ctx.rotate(-Math.PI / 2);
    drawRich(ctx, [{ t: 'T', it: true }, { t: 'max', sub: true }, { t: '[MeV]' }], 0, 0);
    ctx.restore();
  },
};

export default function App() {
  const ref = useRef<HTMLCanvasElement | null>(null);
  useEffect(() => {
    if (!ref.current) return;
    const datasets: any[] = [];
    let seq = 0;
    solidSeries.forEach((s, i) => {
      datasets.push({
        label: seriesNames[i],
        data: s.map(([x, y]) => ({ x, y })),
        borderColor: seriesColors[i],
        borderWidth: 8,
        pointRadius: 0,
        tension: 0,
        fill: false,
        borderJoinStyle: 'round',
        borderCapStyle: 'round',
        order: 100 - seq++,
      });
      datasets.push({
        label: seriesNames[i] + ' (dashed)',
        data: dashedSeries[i].map(([x, y]) => ({ x, y })),
        borderColor: dashedColors[i],
        borderWidth: 8,
        borderDash: [28, 11],
        pointRadius: 0,
        tension: 0,
        fill: false,
        borderJoinStyle: 'round',
        order: 100 - seq++,
      });
    });
    const tickFont = { family: FONT, size: 68 };
    const chart = new Chart(ref.current, {
      type: 'line',
      data: { datasets },
      options: {
        animation: false,
        responsive: false,
        maintainAspectRatio: false,
        devicePixelRatio: 1,
        layout: { padding: { left: 0, top: 55, right: 78, bottom: 0 } },
        plugins: { legend: { display: false }, tooltip: { enabled: false } },
        events: [],
        scales: {
          x: {
            type: 'linear',
            min: -10,
            max: 30,
            afterBuildTicks: (scale: any) => {
              scale.ticks = xTicks.map((v) => ({ value: v }));
            },
            afterFit: (scale: any) => {
              scale.height = 233;
            },
            ticks: {
              font: tickFont,
              color: '#000',
              padding: 2,
              maxRotation: 0,
              autoSkip: false,
              callback: (v: any) => (Number(v) < 0 ? '−' + Math.abs(Number(v)) : String(v)),
            },
            grid: { display: true, drawOnChartArea: false, drawTicks: true, tickLength: 16, tickWidth: 3, tickColor: '#000' },
            border: { display: false },
          },
          y: {
            type: 'linear',
            min: -3.95,
            max: 82.95,
            afterBuildTicks: (scale: any) => {
              scale.ticks = yTicks.map((v) => ({ value: v }));
            },
            afterFit: (scale: any) => {
              scale.width = 229;
            },
            ticks: { font: tickFont, color: '#000', padding: 14, autoSkip: false },
            grid: { display: true, drawOnChartArea: false, drawTicks: true, tickLength: 16, tickWidth: 3, tickColor: '#000' },
            border: { display: false },
          },
        },
      },
      plugins: [decorPlugin],
    } as any);
    return () => chart.destroy();
  }, []);
  return (
    <div style={{ position: 'absolute', left: 0, top: 0, width: 1920, height: 1440, background: '#fff' }}>
      <canvas ref={ref} width={1920} height={1440} style={{ display: 'block', width: 1920, height: 1440 }} />
    </div>
  );
}
